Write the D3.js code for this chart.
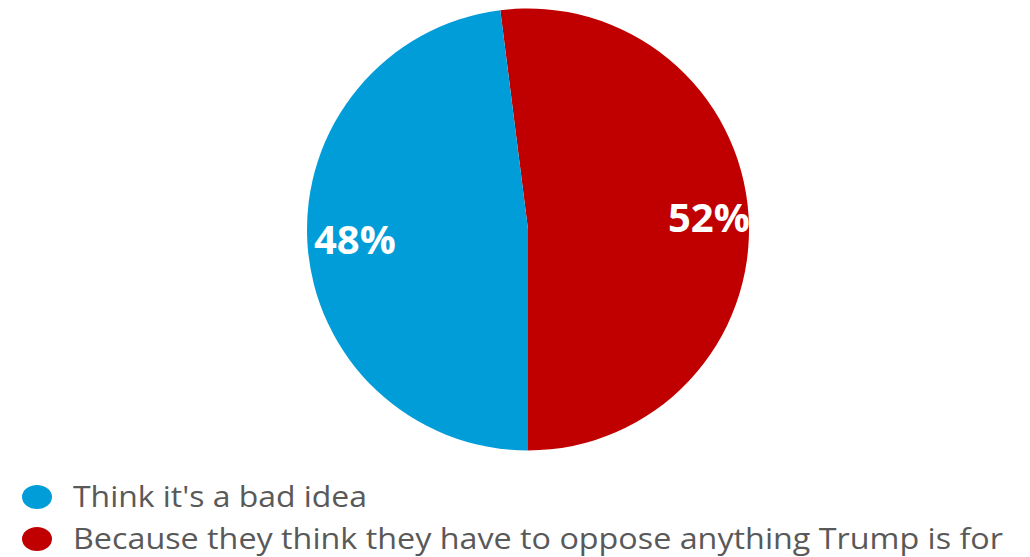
<!DOCTYPE html>
<html><head><meta charset="utf-8">
<script src="https://cdn.jsdelivr.net/npm/d3@7"></script>
<style>body{margin:0;background:#fff}svg{display:block}</style>
</head><body>
<svg id="c" width="1030" height="557"></svg>
<script>
const categories = ["Because they think they have to oppose anything Trump is for", "Think it's a bad idea"];
const values = [52, 48];
const labels = ["52%", "48%"];
const colors = ["#C00000", "#009DD9"];
const legendOrder = [1, 0];

const svg = d3.select("#c");
const cx = 528, cy = 229.5, r = 221;
const startA = -2 * Math.PI * values[0] / 100 + Math.PI;
const pie = d3.pie().sort(null).startAngle(startA).endAngle(startA + 2 * Math.PI);
const arcs = pie(values);
const arc = d3.arc().innerRadius(0).outerRadius(r);
const g = svg.append("g").attr("transform", `translate(${cx},${cy})`);
g.selectAll("path").data(arcs).join("path")
  .attr("d", arc).attr("fill", (d, i) => colors[i]);

// labels near outer edge
const labelR = [0.82, 0.785];
g.selectAll("text").data(arcs).join("text")
  .attr("transform", (d, i) => {
    const la = d3.arc().innerRadius(r * labelR[i]).outerRadius(r * labelR[i]);
    const c = la.centroid(d);
    return `translate(${c[0]},${c[1]})`;
  })
  .attr("text-anchor", "middle")
  .attr("dy", "0.35em")
  .attr("font-family", "'Open Sans', sans-serif")
  .attr("font-weight", "bold")
  .attr("font-size", 40)
  .attr("fill", "#fff")
  .text((d, i) => labels[i]);

// legend
const lg = svg.append("g");
const widths = [294, 930];
legendOrder.forEach((idx, k) => {
  const y = 497 + k * 42;
  lg.append("ellipse").attr("cx", 37).attr("cy", y).attr("rx", 15).attr("ry", 12).attr("fill", colors[idx]);
  lg.append("text").attr("x", 73).attr("y", y + 10)
    .attr("font-family", "'Open Sans', sans-serif").attr("font-size", 30)
    .attr("fill", "#595959")
    .attr("textLength", widths[k]).attr("lengthAdjust", "spacingAndGlyphs")
    .text(categories[idx]);
});
</script>
</body></html>
